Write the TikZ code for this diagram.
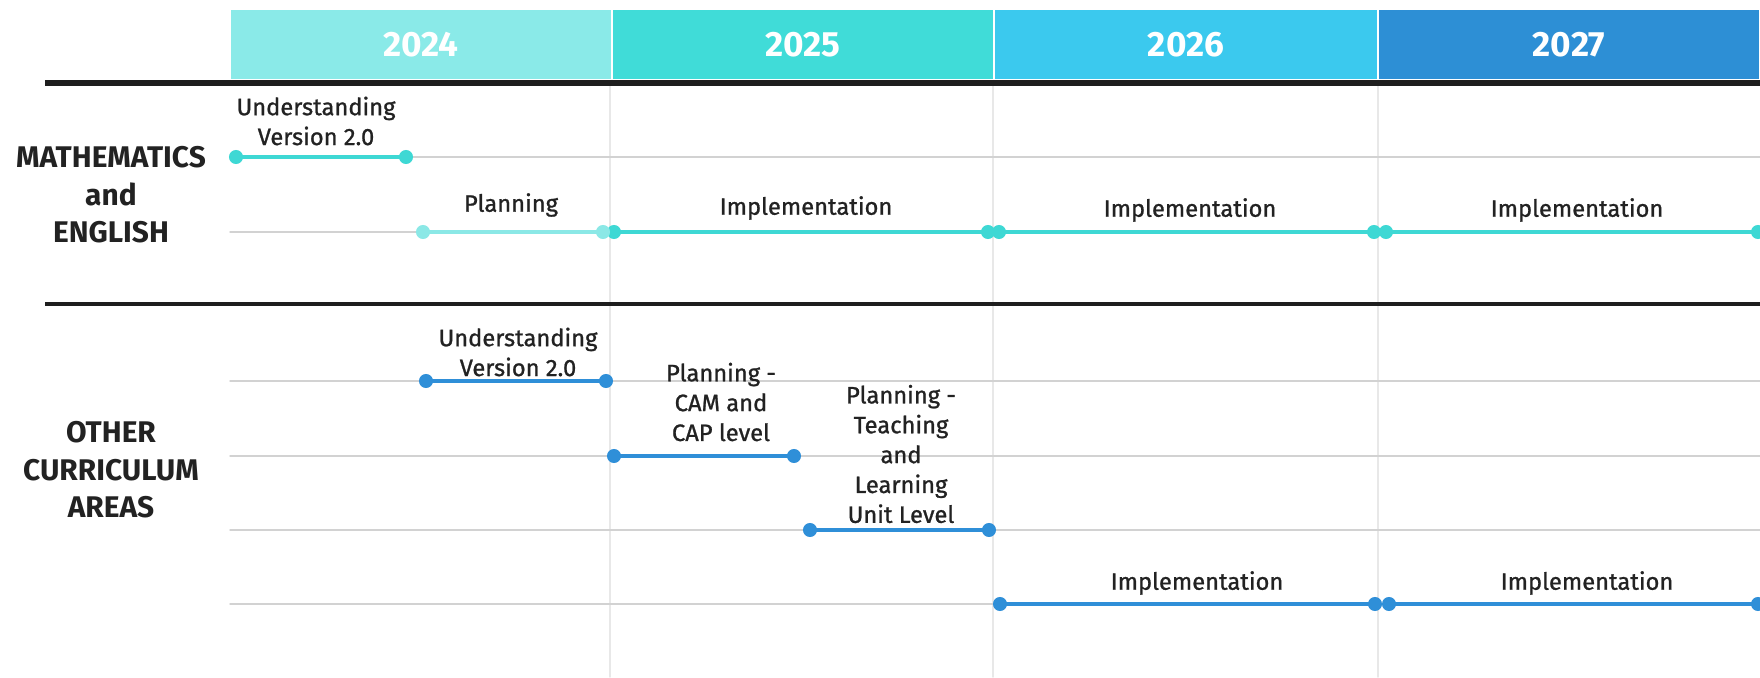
\documentclass[tikz,border=0pt]{standalone}
\usepackage{fontspec}
\setmainfont{Fira Sans}
\newfontfamily\lblfont{Fira Sans}[FakeBold=1]
\usetikzlibrary{positioning}
\definecolor{yrA}{HTML}{8AEAE8}
\definecolor{yrB}{HTML}{40DCD8}
\definecolor{yrC}{HTML}{3BC9EE}
\definecolor{yrD}{HTML}{2D8FD5}
\definecolor{tealseg}{HTML}{3ED8D4}
\definecolor{paleseg}{HTML}{8BE8E6}
\definecolor{blueseg}{HTML}{2F8FD8}
\definecolor{rulegrey}{HTML}{D2D2D2}
\definecolor{gridgrey}{HTML}{E8E8E8}
\definecolor{inkc}{HTML}{222222}
\definecolor{barc}{HTML}{1E1E1E}
\tikzset{
  yeartext/.style={text=white, font=\fontsize{20}{24}\selectfont\bfseries},
  rowlabel/.style={text=inkc, align=center, font=\fontsize{17}{21.3}\selectfont\bfseries},
  tasklabel/.style={text=inkc, align=center, inner sep=0pt, font=\fontsize{13.5}{17}\selectfont\lblfont},
  seg/.style={line width=2.8pt, color=#1},
}
\begin{document}
\begin{tikzpicture}[x=0.02cm, y=-0.02cm, line cap=round]
\useasboundingbox (0,0) rectangle (1760,677);
% Kopfzeile mit den Jahren
\foreach \c/\xa/\xb/\yr in {yrA/230/612/2024, yrB/612/994/2025, yrC/994/1378/2026, yrD/1378/1760/2027}
  \filldraw[fill=\c, draw=white, line width=0.8pt] (\xa,9) rectangle (\xb,80)
    node[yeartext, midway] (h\yr) {\yr};
% Rasterlinien
\foreach \x in {610,993,1378}
  \draw[gridgrey, line width=0.8pt] (\x,86) -- (\x,677);
\foreach \y in {157,232,381,456,530,604}
  \draw[rulegrey, line width=0.8pt] (230,\y) -- (1760,\y);
\draw[barc, line width=3.4pt, line cap=butt] (45,83) -- (1760,83);
\draw[barc, line width=2.8pt, line cap=butt] (45,304) -- (1760,304);
% Zeilenbeschriftung
\node[rowlabel] (maths) at (111,195) {MATHEMATICS\\and\\ENGLISH};
\node[rowlabel] (other) at (111,470) {OTHER\\CURRICULUM\\AREAS};
% Mathematik und Englisch
\coordinate (mA1) at (236,157); \coordinate (mA2) at (406,157);
\coordinate (mB1) at (423,232); \coordinate (mB2) at (603,232);
\coordinate (mC1) at (614,232); \coordinate (mC2) at (988,232);
\coordinate (mD1) at (999,232); \coordinate (mD2) at (1374,232);
\coordinate (mE1) at (1386,232); \coordinate (mE2) at (1758,232);
\draw[seg=tealseg] (mA1) -- (mA2);
\draw[seg=paleseg] (mB1) -- (mB2);
\foreach \s in {C,D,E}
  \draw[seg=tealseg] (m\s1) -- (m\s2);
\foreach \p in {mA1,mA2,mC1,mC2,mD1,mD2,mE1,mE2}
  \fill[tealseg] (\p) circle (4pt);
\foreach \p in {mB1,mB2}
  \fill[paleseg] (\p) circle (4pt);
\node[tasklabel] (tA) at (316,121) {Understanding\\Version 2.0};
\node[tasklabel] (tB) at (511,205) {Planning};
\node[tasklabel] (tC) at (806,208) {Implementation};
\node[tasklabel] (tD) at (1190,210) {Implementation};
\node[tasklabel] (tE) at (1577,210) {Implementation};
% andere Lernbereiche
\coordinate (oA1) at (426,381); \coordinate (oA2) at (606,381);
\coordinate (oB1) at (614,456); \coordinate (oB2) at (794,456);
\coordinate (oC1) at (810,530); \coordinate (oC2) at (989,530);
\coordinate (oD1) at (1000,604); \coordinate (oD2) at (1375,604);
\coordinate (oE1) at (1389,604); \coordinate (oE2) at (1758,604);
\foreach \s in {A,B,C,D,E}
  \draw[seg=blueseg] (o\s1) -- (o\s2);
\foreach \s in {A,B,C,D,E}
  \fill[blueseg] (o\s1) circle (4pt) (o\s2) circle (4pt);
\node[tasklabel] (uA) at (518,352) {Understanding\\Version 2.0};
\node[tasklabel] (uB) at (721,402) {Planning -\\CAM and\\CAP level};
\node[tasklabel] (uC) at (901,454) {Planning -\\Teaching\\and\\Learning\\Unit Level};
\node[tasklabel] (uD) at (1197,583) {Implementation};
\node[tasklabel] (uE) at (1587,583) {Implementation};
\end{tikzpicture}
\end{document}
